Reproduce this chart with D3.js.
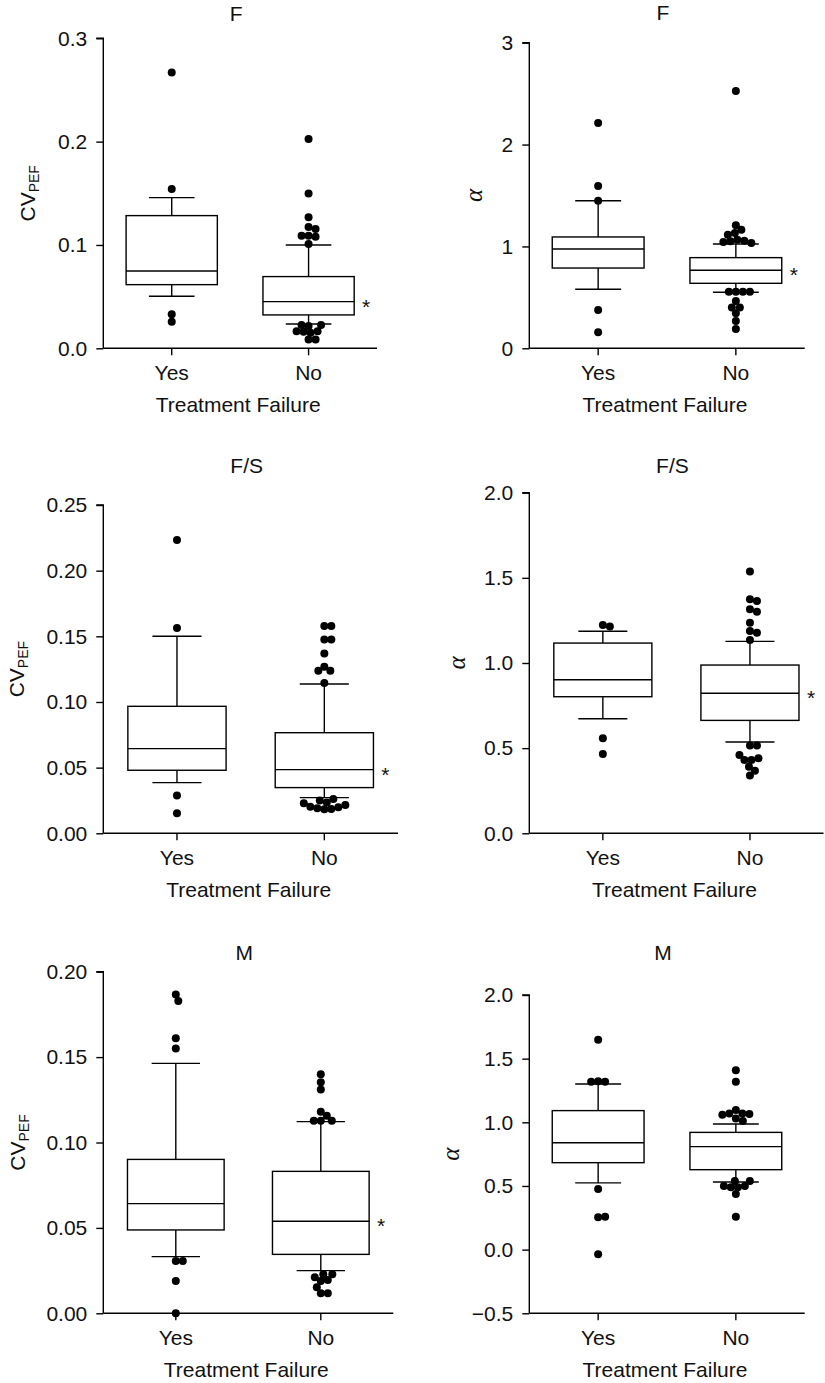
<!DOCTYPE html>
<html><head><meta charset="utf-8">
<script src="https://cdn.jsdelivr.net/npm/d3@7"></script>
<style>
body{margin:0;background:#fff;}
svg{display:block;}
text{font-family:"Liberation Sans",Arial,Helvetica,sans-serif;fill:#111;}
</style></head>
<body>
<svg id="chart" width="825" height="1383"></svg>
<script>
// ---------- data ----------
const groups = ["Yes", "No"];
const xTitle = "Treatment Failure";
const panelTitles = ["F", "F", "F/S", "F/S", "M", "M"];

// box stats: [whisker low, Q1, median, Q3, whisker high]
const p1YesBox = [0.0503, 0.0616, 0.0748, 0.1284, 0.1458];
const p1NoBox  = [0.0235, 0.0323, 0.0452, 0.0694, 0.1000];
const p1YesOut = [0.2668, 0.1542, 0.0329, 0.0258];
const p1NoOut  = [0.2026, 0.1497, 0.1268, 0.1175, 0.1155, 0.109, 0.108, 0.109, 0.101,
                  0.0226, 0.0226, 0.0215, 0.0165, 0.0150, 0.0160, 0.0165, 0.0085, 0.0085];
const p1Ticks  = [0, 0.1, 0.2, 0.3];

const p2YesBox = [0.579, 0.788, 0.975, 1.093, 1.449];
const p2NoBox  = [0.550, 0.638, 0.766, 0.890, 1.024];
const p2YesOut = [2.212, 1.593, 1.449, 0.376, 0.157];
const p2NoOut  = [2.526, 1.207, 1.164, 1.131, 1.115, 1.066, 1.056, 1.050, 1.043, 1.033,
                  0.556, 0.556, 0.556, 0.556, 0.464, 0.40, 0.40, 0.343, 0.268, 0.189];
const p2Ticks  = [0, 1, 2, 3];

const p3YesBox = [0.0386, 0.0480, 0.0645, 0.0967, 0.1500];
const p3NoBox  = [0.0272, 0.0348, 0.0485, 0.0766, 0.1137];
const p3YesOut = [0.2234, 0.1563, 0.0287, 0.0152];
const p3NoOut  = [0.1578, 0.1578, 0.1476, 0.1476, 0.137, 0.1269, 0.1238, 0.1238, 0.1145,
                  0.0261, 0.0228, 0.0203, 0.0190, 0.0183, 0.0185, 0.0198, 0.0216, 0.0234, 0.0249];
const p3Ticks  = [0, 0.05, 0.10, 0.15, 0.20, 0.25];

const p4YesBox = [0.673, 0.802, 0.902, 1.117, 1.186];
const p4NoBox  = [0.536, 0.663, 0.822, 0.988, 1.127];
const p4YesOut = [1.223, 1.215, 0.558, 0.466];
const p4NoOut  = [1.538, 1.374, 1.364, 1.315, 1.301, 1.237, 1.188, 1.178, 1.135,
                  0.515, 0.515, 0.46, 0.44, 0.43, 0.43, 0.391, 0.368, 0.339];
const p4Ticks  = [0, 0.5, 1.0, 1.5, 2.0];

const p5YesBox = [0.0332, 0.0488, 0.0642, 0.0901, 0.1463];
const p5NoBox  = [0.0250, 0.0345, 0.0539, 0.0831, 0.1122];
const p5YesOut = [0.1867, 0.1828, 0.161, 0.1551, 0.0306, 0.0306, 0.0189, 0.0];
const p5NoOut  = [0.1399, 0.1353, 0.1311, 0.118, 0.1157, 0.1128, 0.1128, 0.1128,
                  0.0228, 0.0228, 0.0211, 0.0195, 0.0189, 0.0152, 0.0117, 0.0117];
const p5Ticks  = [0, 0.05, 0.10, 0.15, 0.20];

const p6YesBox = [0.524, 0.683, 0.840, 1.092, 1.301];
const p6NoBox  = [0.531, 0.628, 0.809, 0.921, 0.987];
const p6YesOut = [1.649, 1.319, 1.319, 1.322, 0.476, 0.259, 0.254, -0.037];
const p6NoOut  = [1.408, 1.319, 1.097, 1.07, 1.07, 1.065, 1.06, 1.03, 1.01,
                  0.54, 0.54, 0.50, 0.49, 0.49, 0.50, 0.437, 0.259];
const p6Ticks  = [-0.5, 0, 0.5, 1.0, 1.5, 2.0];

const significant = [true, true, true, true, true, false];

// ---------- layout ----------
const layouts = [
  {x0:103.3, x1:377,   yT:38.3,  yB:348.3,  fmt:".1f", lab:"cv", labX:35,  titleY:20.5},
  {x0:529.3, x1:804.7, yT:42.7,  yB:348.3,  fmt:".0f", lab:"a",  labX:482, titleY:20},
  {x0:103.3, x1:398,   yT:505,   yB:833.3,  fmt:".2f", lab:"cv", labX:23.5, titleY:472.5},
  {x0:529.3, x1:823.5, yT:492.7, yB:833.3,  fmt:".1f", lab:"a",  labX:465, titleY:472.5},
  {x0:103.3, x1:393.3, yT:971.7, yB:1313.3, fmt:".2f", lab:"cv", labX:25,  titleY:959.5},
  {x0:529.3, x1:804.7, yT:995,   yB:1313.3, fmt:".1f", lab:"a",  labX:459, titleY:959.5}
];
const panelData = [
  {box:[p1YesBox,p1NoBox], out:[p1YesOut,p1NoOut], ticks:p1Ticks},
  {box:[p2YesBox,p2NoBox], out:[p2YesOut,p2NoOut], ticks:p2Ticks},
  {box:[p3YesBox,p3NoBox], out:[p3YesOut,p3NoOut], ticks:p3Ticks},
  {box:[p4YesBox,p4NoBox], out:[p4YesOut,p4NoOut], ticks:p4Ticks},
  {box:[p5YesBox,p5NoBox], out:[p5YesOut,p5NoOut], ticks:p5Ticks},
  {box:[p6YesBox,p6NoBox], out:[p6YesOut,p6NoOut], ticks:p6Ticks}
];

const svg = d3.select("#chart");
const FS = 21, R = 4, MIND = 7, SW = 1.4;

function swarm(vals, y, cx, medY) {
  const pts = vals.map(v => ({v, y: y(v)}));
  pts.sort((a, b) => Math.abs(b.y - medY) - Math.abs(a.y - medY));
  const placed = [];
  pts.forEach(p => {
    for (let k = 0; k < 400; k++) {
      const off = (k % 2 ? 1 : -1) * Math.ceil(k / 2) * 0.5;
      const x = cx + off;
      const hit = placed.some(q => (q.x - x) ** 2 + (q.y - p.y) ** 2 < MIND * MIND);
      if (!hit) { p.x = x; break; }
    }
    placed.push(p);
  });
  return placed;
}

layouts.forEach((L, i) => {
  const D = panelData[i];
  const g = svg.append("g");
  const ext = d3.extent(D.ticks);
  const y = d3.scaleLinear().domain(ext).range([L.yB, L.yT]);
  const x = d3.scaleBand().domain(groups).range([L.x0, L.x1]).paddingInner(1/3).paddingOuter(1/6);
  const bw = x.bandwidth();

  // y axis
  const ya = g.append("g").attr("transform", `translate(${L.x0},0)`)
    .call(d3.axisLeft(y).tickValues(D.ticks).tickFormat(d3.format(L.fmt)).tickSize(7).tickPadding(9));
  // x axis
  const xa = g.append("g").attr("transform", `translate(0,${L.yB})`)
    .call(d3.axisBottom(x).tickSize(7).tickPadding(10));
  [ya, xa].forEach(a => {
    a.select(".domain").attr("stroke", "#000").attr("stroke-width", SW);
    a.selectAll(".tick line").attr("stroke", "#000").attr("stroke-width", SW);
    a.selectAll("text").attr("font-size", FS).attr("fill", "#111")
      .attr("font-family", '"Liberation Sans",Arial,sans-serif');
  });
  ya.select(".domain").attr("d", `M-7,${L.yT}H0V${L.yB}`);
  xa.select(".domain").attr("d", `M${L.x0},0H${L.x1}`);

  // title
  const cxMid = (L.x0 + L.x1) / 2;
  g.append("text").attr("x", cxMid - 4).attr("y", L.titleY)
    .attr("text-anchor", "middle").attr("font-size", FS).text(panelTitles[i]);
  // x title
  g.append("text").attr("x", cxMid - 2).attr("y", L.yB + 64)
    .attr("text-anchor", "middle").attr("font-size", FS).text(xTitle);
  // y label
  const yMid = (L.yT + L.yB) / 2;
  if (L.lab === "cv") {
    const t = g.append("text").attr("transform", `translate(${L.labX},${yMid}) rotate(-90)`)
      .attr("text-anchor", "middle").attr("font-size", FS);
    t.append("tspan").text("CV");
    t.append("tspan").attr("font-size", 14).attr("dy", 4).text("PEF");
  } else {
    g.append("text").attr("transform", `translate(${L.labX},${yMid}) rotate(-90)`)
      .attr("text-anchor", "middle").attr("font-size", 25).attr("font-style", "italic")
      .style("font-family", '"Liberation Serif","DejaVu Serif",serif').text("α");
  }

  groups.forEach((grp, j) => {
    const [wl, q1, md, q3, wh] = D.box[j];
    const cx = x(grp) + bw / 2;
    const left = x(grp), right = x(grp) + bw;
    const capW = bw / 2;
    const line = (x1, y1, x2, y2) => g.append("line").attr("x1", x1).attr("y1", y1)
      .attr("x2", x2).attr("y2", y2).attr("stroke", "#000").attr("stroke-width", SW);
    // whiskers
    line(cx, y(q3), cx, y(wh));
    line(cx, y(q1), cx, y(wl));
    line(cx - capW / 2, y(wh), cx + capW / 2, y(wh));
    line(cx - capW / 2, y(wl), cx + capW / 2, y(wl));
    // box
    g.append("rect").attr("x", left).attr("y", y(q3)).attr("width", bw)
      .attr("height", y(q1) - y(q3)).attr("fill", "#fff")
      .attr("stroke", "#000").attr("stroke-width", SW);
    line(left, y(md), right, y(md));
    // outliers
    const pts = swarm(D.out[j], y, cx, y(md));
    g.selectAll(null).data(pts).enter().append("circle")
      .attr("cx", d => d.x).attr("cy", d => d.y).attr("r", R).attr("fill", "#000");
    if (grp === "No" && significant[i]) {
      g.append("text").attr("x", right + 12).attr("y", y(md) + 12)
        .attr("text-anchor", "middle").attr("font-size", FS).text("*");
    }
  });
});
</script>
</body></html>
